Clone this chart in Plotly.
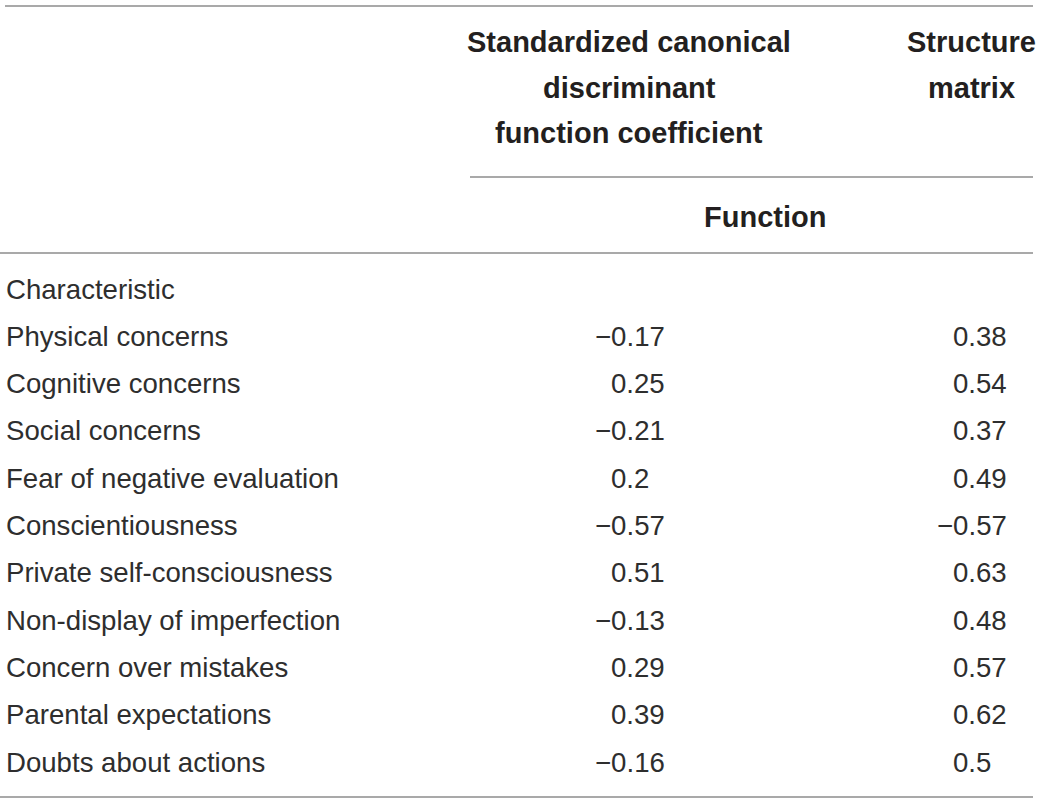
import plotly.graph_objects as go

# Table content
characteristics = [
    "Physical concerns",
    "Cognitive concerns",
    "Social concerns",
    "Fear of negative evaluation",
    "Conscientiousness",
    "Private self-consciousness",
    "Non-display of imperfection",
    "Concern over mistakes",
    "Parental expectations",
    "Doubts about actions",
]
coefficients = [-0.17, 0.25, -0.21, 0.2, -0.57, 0.51, -0.13, 0.29, 0.39, -0.16]
structure = [0.38, 0.54, 0.37, 0.49, -0.57, 0.63, 0.48, 0.57, 0.62, 0.5]

header_coef = ["Standardized canonical", "discriminant", "function coefficient"]
header_struct = ["Structure", "matrix"]
subheader = "Function"
row_title = "Characteristic"

# Layout (pixel space of the page)
W, H = 1042, 803
body_font = dict(family="Liberation Sans, Arial, sans-serif", size=27.6, color="#2e2e2e")
bold_font = dict(family="Liberation Sans, Arial, sans-serif", size=29, color="#231f20")
rule_color = "#8c8c8c"

label_x = 4
coef_right = 667
struct_right = 1009
coef_center = 629
struct_center = 971
function_center = 765
first_row_y = 289
row_pitch = 47.3
header_y0 = 42
header_pitch = 45.5
function_y = 217


def fmt(v):
    s = f"{v:g}".replace("-", "\u2212")
    decimals = len(s.split(".")[1]) if "." in s else 0
    pad = 2 - decimals
    if pad > 0:
        # invisible digits keep decimal alignment
        s += "<span style='color:rgba(0,0,0,0)'>" + "0" * pad + "</span>"
    return s


fig = go.Figure()
annotations = []


def add_text(x, y, text, font, anchor):
    annotations.append(dict(
        x=x, y=y, xref="x", yref="y", text=text, showarrow=False,
        xanchor=anchor, yanchor="middle", font=font,
    ))


# Header
for i, line in enumerate(header_coef):
    add_text(coef_center, header_y0 + i * header_pitch, "<b>" + line + "</b>", bold_font, "center")
for i, line in enumerate(header_struct):
    add_text(struct_center, header_y0 + i * header_pitch, "<b>" + line + "</b>", bold_font, "center")
add_text(function_center, function_y, "<b>" + subheader + "</b>", bold_font, "center")

# Body
add_text(label_x, first_row_y, row_title, body_font, "left")
for i, name in enumerate(characteristics):
    y = first_row_y + (i + 1) * row_pitch
    add_text(label_x, y, name, body_font, "left")
    add_text(coef_right, y, fmt(coefficients[i]), body_font, "right")
    add_text(struct_right, y, fmt(structure[i]), body_font, "right")

# Rules
shapes = []
for x0, x1, y in [(5, 1033, 6), (470, 1033, 177), (0, 1033, 253), (0, 1033, 797)]:
    shapes.append(dict(type="line", xref="x", yref="y", x0=x0, x1=x1, y0=y, y1=y,
                       line=dict(color=rule_color, width=1.5)))

fig.add_trace(go.Scatter(x=[0, W], y=[0, H], mode="markers",
                         marker=dict(opacity=0), hoverinfo="skip", showlegend=False))

fig.update_layout(
    width=W,
    height=H,
    margin=dict(l=0, r=0, t=0, b=0),
    paper_bgcolor="white",
    plot_bgcolor="white",
    xaxis=dict(range=[0, W], visible=False, fixedrange=True),
    yaxis=dict(range=[H, 0], visible=False, fixedrange=True),
    annotations=annotations,
    shapes=shapes,
    showlegend=False,
)

# drop the default page margin so the figure sits at the window origin
fig.write_html("out.html", config={"displayModeBar": False},
               post_script="document.body.style.margin='0';")
